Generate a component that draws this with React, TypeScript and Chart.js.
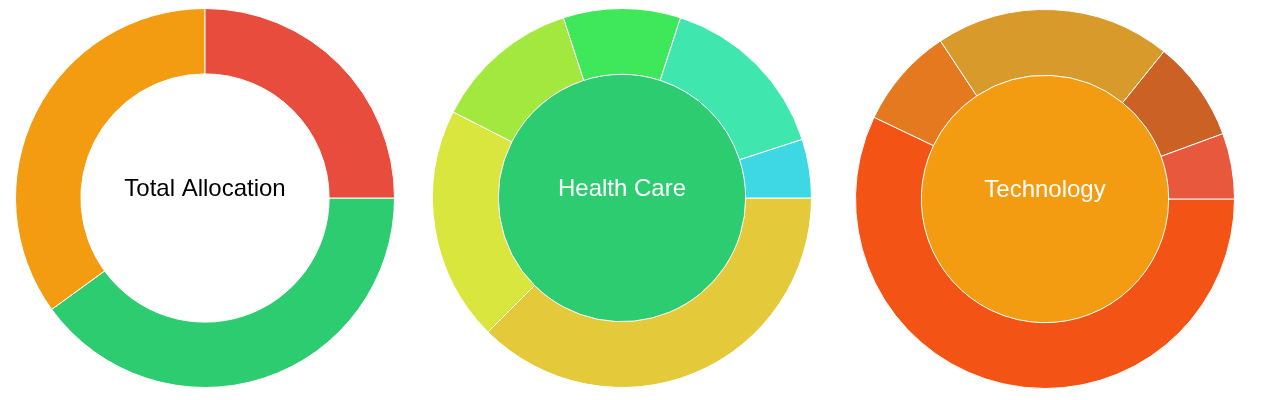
import React, { useEffect, useRef } from "react";
import { Chart, registerables } from "chart.js";

Chart.register(...registerables);

// Chart 1: Total Allocation (starting at 3 o'clock, clockwise)
const totalLabels = ["Health Care", "Technology", "Other"];
const totalValues = [40, 35, 25];
const totalColors = ["#2ecc71", "#f39c12", "#e74c3c"];

// Chart 2: Health Care breakdown (starting at 3 o'clock, clockwise)
const healthLabels = ["A", "B", "C", "D", "E", "F"];
const healthValues = [37.5, 20, 12.5, 10, 15, 5];
const healthColors = ["#e4c93b", "#d8e63e", "#a2e83f", "#3fe85b", "#3fe6ae", "#3dd8e4"];
const healthInner = [100];
const healthInnerColor = "#2ecc71";

// Chart 3: Technology breakdown (starting at 3 o'clock, clockwise)
const techLabels = ["A", "B", "C", "D", "E"];
const techValues = [57.1, 8.6, 20.1, 8.6, 5.6];
const techColors = ["#f35314", "#e5791f", "#d99a2c", "#cc6125", "#e8583c"];
const techInner = [100];
const techInnerColor = "#f39c12";

const centerTextPlugin = {
  id: "centerText",
  afterDraw(chart: any) {
    const opts = chart.options.plugins.centerText;
    if (!opts || !opts.text) return;
    const meta = chart.getDatasetMeta(0);
    const arc = meta.data[0];
    if (!arc) return;
    const { x, y } = arc;
    const ctx = chart.ctx;
    ctx.save();
    ctx.font = '24px "Liberation Sans", Arial, sans-serif';
    ctx.fillStyle = opts.color;
    ctx.textAlign = "center";
    ctx.textBaseline = "alphabetic";
    ctx.fillText(opts.text, x, y - 2);
    ctx.restore();
  },
};

function Donut(props: { config: any; left: number; top: number }) {
  const ref = useRef<HTMLCanvasElement | null>(null);
  useEffect(() => {
    if (!ref.current) return;
    const chart = new Chart(ref.current, props.config);
    return () => chart.destroy();
  }, []);
  return (
    <div
      style={{
        position: "absolute",
        left: props.left,
        top: props.top,
        width: 380,
        height: 380,
      }}
    >
      <canvas ref={ref} width={380} height={380} style={{ width: 380, height: 380 }} />
    </div>
  );
}

const baseOptions = (text: string, color: string, cutout: any) => ({
  responsive: false,
  animation: false,
  rotation: 90,
  cutout,
  events: [],
  plugins: {
    legend: { display: false },
    tooltip: { enabled: false },
    centerText: { text, color },
  },
});

export default function App() {
  const cfg1 = {
    type: "doughnut",
    data: {
      labels: totalLabels,
      datasets: [
        {
          data: totalValues,
          backgroundColor: totalColors,
          borderColor: "#ffffff",
          borderWidth: 1,
        },
      ],
    },
    options: baseOptions("Total Allocation", "#000000", "65.5%"),
    plugins: [centerTextPlugin],
  };
  const cfg2 = {
    type: "doughnut",
    data: {
      labels: healthLabels,
      datasets: [
        {
          data: healthValues,
          backgroundColor: healthColors,
          borderColor: "#ffffff",
          borderWidth: 1,
          weight: 66,
        },
        {
          data: healthInner,
          backgroundColor: [healthInnerColor],
          borderColor: "#ffffff",
          borderWidth: 0,
          weight: 124,
        },
      ],
    },
    options: baseOptions("Health Care", "#ffffff", 0),
    plugins: [centerTextPlugin],
  };
  const cfg3 = {
    type: "doughnut",
    data: {
      labels: techLabels,
      datasets: [
        {
          data: techValues,
          backgroundColor: techColors,
          borderColor: "#ffffff",
          borderWidth: 1,
          weight: 66,
        },
        {
          data: techInner,
          backgroundColor: [techInnerColor],
          borderColor: "#ffffff",
          borderWidth: 0,
          weight: 124,
        },
      ],
    },
    options: baseOptions("Technology", "#ffffff", 0),
    plugins: [centerTextPlugin],
  };
  return (
    <div style={{ position: "relative", width: 1253, height: 392 }}>
      <Donut config={cfg1} left={7} top={0} />
      <Donut config={cfg2} left={424} top={0} />
      <Donut config={cfg3} left={847} top={1} />
    </div>
  );
}
